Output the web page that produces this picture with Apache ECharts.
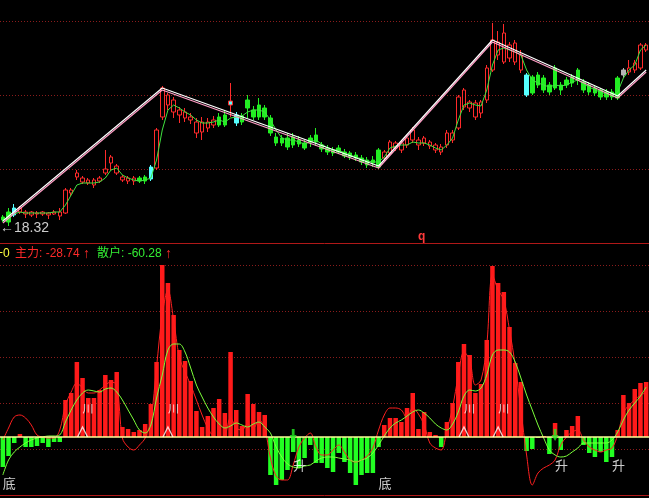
<!DOCTYPE html>
<html><head><meta charset="utf-8">
<script src="https://cdn.jsdelivr.net/npm/echarts@6/dist/echarts.min.js"></script>
<style>html,body{margin:0;padding:0;background:#000;}#c{width:649px;height:498px;}</style>
</head><body><div id="c"></div>
<script>
// ---------- price panel (daily candles) ----------
const openP = [18.41,18.46,18.43,18.46,18.46,18.46,18.45,18.44,18.45,18.44,
18.46,18.45,18.68,18.81,18.80,18.78,18.73,18.77,18.85,19.01,
18.85,18.81,18.80,18.77,18.80,18.81,18.79,18.90,19.41,19.63,
19.58,19.48,19.46,19.38,19.25,19.36,19.36,19.33,19.41,19.43,
19.53,19.35,19.42,19.50,19.48,19.41,19.50,19.40,19.21,19.20,
19.20,19.21,19.18,19.15,19.16,19.23,19.13,19.10,19.08,19.06,
19.06,19.05,19.03,19.00,18.98,18.95,18.91,19.00,19.05,19.15,
19.08,19.13,19.18,19.18,19.15,19.16,19.13,19.11,19.13,19.25,
19.30,19.51,19.56,19.55,19.45,19.58,19.88,20.16,19.96,20.13,
19.96,20.03,19.83,19.81,19.73,19.80,19.73,19.90,19.73,19.73,
19.75,19.88,19.76,19.73,19.70,19.68,19.66,19.61,19.60,19.83,
19.86,19.88,19.90,20.08];
const closeP = [18.38,18.36,18.50,18.50,18.44,18.43,18.44,18.46,18.43,18.46,
18.42,18.68,18.65,18.85,18.76,18.75,18.78,18.80,18.89,18.95,
18.92,18.78,18.77,18.80,18.77,18.77,18.91,19.28,19.70,19.53,
19.46,19.43,19.40,19.41,19.36,19.26,19.30,19.38,19.33,19.33,
19.57,19.43,19.36,19.58,19.41,19.53,19.41,19.25,19.15,19.15,
19.11,19.13,19.14,19.10,19.20,19.16,19.09,19.06,19.05,19.10,
19.02,19.01,19.00,18.96,18.93,18.98,19.08,19.06,19.16,19.10,
19.15,19.20,19.28,19.13,19.20,19.12,19.08,19.06,19.25,19.18,
19.61,19.68,19.50,19.41,19.56,19.90,20.18,20.03,20.25,20.00,
20.15,19.88,19.63,19.65,19.83,19.68,19.66,19.70,19.68,19.78,
19.81,19.78,19.68,19.66,19.65,19.61,19.61,19.66,19.80,19.88,
19.90,19.95,20.13,20.13];
const lowP = [18.36,18.32,18.41,18.44,18.40,18.41,18.40,18.42,18.39,18.43,
18.38,18.44,18.62,18.78,18.74,18.73,18.70,18.75,18.83,18.88,
18.83,18.76,18.74,18.73,18.75,18.74,18.77,18.88,19.38,19.48,
19.40,19.35,19.36,19.34,19.20,19.18,19.26,19.30,19.31,19.31,
19.41,19.32,19.33,19.40,19.38,19.38,19.38,19.22,19.12,19.12,
19.08,19.10,19.11,19.08,19.11,19.12,19.06,19.03,19.02,19.04,
19.00,18.98,18.97,18.93,18.90,18.91,18.89,18.96,19.02,19.07,
19.05,19.10,19.15,19.08,19.12,19.09,19.05,19.03,19.10,19.15,
19.28,19.48,19.46,19.38,19.40,19.55,19.86,19.98,19.94,19.96,
19.93,19.85,19.61,19.63,19.70,19.65,19.63,19.68,19.63,19.70,
19.71,19.73,19.65,19.63,19.62,19.58,19.58,19.58,19.58,19.80,
19.83,19.85,19.88,20.06];
const highP = [18.43,18.50,18.54,18.52,18.48,18.47,18.47,18.47,18.46,18.48,
18.50,18.70,18.70,18.88,18.82,18.80,18.80,18.82,19.08,19.03,
18.94,18.83,18.82,18.82,18.82,18.83,18.93,19.30,19.72,19.65,
19.61,19.51,19.50,19.45,19.40,19.41,19.40,19.42,19.45,19.48,
19.75,19.46,19.45,19.63,19.52,19.60,19.53,19.43,19.25,19.23,
19.25,19.25,19.22,19.18,19.23,19.30,19.16,19.13,19.11,19.13,
19.09,19.07,19.06,19.03,19.01,19.02,19.10,19.08,19.18,19.17,
19.18,19.23,19.31,19.21,19.22,19.18,19.15,19.14,19.28,19.28,
19.63,19.70,19.58,19.58,19.58,19.93,20.35,20.27,20.34,20.16,
20.18,20.08,19.85,19.83,19.86,19.83,19.76,19.93,19.76,19.81,
19.84,19.90,19.79,19.76,19.73,19.70,19.69,19.69,19.82,19.90,
19.98,19.98,20.15,20.15];
// candle signal per day: r = rising phase, g = falling phase, c = cyan signal, x = cyan body on red wick, w = neutral
const phase = "ggc" + "rrrrrrrrrrrrrrrrrrrrr" + "ggc" + "rrrrrrrrrrr" + "gg" + "xc" +
  "ggggggggggggggggggggggggg" + "rrrrrrrrrrrrrrrrrrrrrrrrr" + "c" + "gggggggggggggggg" + "w" + "rrrr";
const ma = [18.38,18.40,18.44,18.46,18.45,18.45,18.45,18.45,18.45,18.46,
18.46,18.53,18.63,18.73,18.75,18.75,18.75,18.76,18.80,18.88,
18.90,18.83,18.80,18.78,18.77,18.78,18.80,18.98,19.28,19.48,
19.53,19.50,19.46,19.43,19.38,19.35,19.35,19.36,19.38,19.36,
19.40,19.41,19.42,19.46,19.48,19.48,19.46,19.38,19.28,19.20,
19.18,19.18,19.16,19.14,19.16,19.18,19.14,19.10,19.08,19.08,
19.05,19.03,19.01,18.99,18.97,18.96,18.96,19.01,19.10,19.12,
19.13,19.13,19.16,19.15,19.15,19.13,19.10,19.08,19.13,19.20,
19.38,19.53,19.55,19.53,19.52,19.68,19.93,20.08,20.10,20.08,
20.06,20.03,19.88,19.78,19.75,19.73,19.71,19.73,19.72,19.73,
19.76,19.78,19.74,19.71,19.68,19.66,19.64,19.63,19.66,19.80,
19.88,19.93,20.08,20.13];
// zigzag pivots: [day index, price]
const pivotDays = [0, 28, 66, 86, 108, 113];
const pivotPrices = [18.37, 19.70, 18.92, 20.18, 19.62, 19.88];
const lowLabel = "18.32";

// ---------- flow panel ----------
const flowBars = [-30,-19,-6,3,-10,-10,-9,-6,-10,-5,
-5,37,44,75,59,39,39,47,62,57,
65,10,8,5,7,13,33,75,172,154,
122,87,76,56,26,10,21,29,38,24,
85,27,11,43,33,25,22,-38,-48,-43,
-33,-15,-31,-21,-8,-26,-26,-31,-35,-16,
-25,-36,-48,-38,-36,-36,-10,12,19,19,
15,29,44,8,25,5,2,-10,15,34,
75,93,82,44,53,97,171,154,145,110,
74,55,-14,-12,-1,1,-17,14,-13,7,
11,21,-8,-16,-20,-15,-25,-20,7,42,
34,48,54,55];
const mainLine = [-3,9,20,22,19,12,2,0,-1,-1,
7,32,45,54,49,44,44,47,52,55,
52,-1,-10,-13,-8,-1,17,70,122,147,
117,80,65,52,37,22,9,1,0,2,
19,9,7,13,9,17,9,-21,-39,-43,
-43,-28,-10,-1,4,-10,-18,-18,-13,-8,
-15,-23,-25,-23,-19,-11,7,22,29,29,
27,19,29,23,12,-6,-11,-13,7,29,
62,85,77,52,57,92,162,147,137,107,
72,27,-18,-48,-36,-31,-28,-23,-8,0,
5,7,-3,-10,-13,-15,-13,-11,2,24,
32,37,42,44];
const retailLine = [-38,-23,-15,-10,-6,-3,-1,0,1,1,
2,15,27,37,44,47,46,45,48,49,
45,37,27,17,7,4,12,39,62,87,
93,93,85,69,52,40,29,20,13,9,
11,14,12,10,13,15,10,4,-10,-20,
-27,-30,-31,-29,-28,-24,-21,-20,-20,-21,
-22,-23,-25,-23,-21,-16,-8,1,9,14,
17,21,25,27,24,19,13,9,7,13,
25,41,47,46,49,62,82,87,87,85,
75,59,42,27,12,-1,-13,-18,-20,-19,
-15,-11,-6,-6,-6,-6,-6,-3,5,17,
27,34,41,50];
const tipDays = [14, 29, 81, 87];      // hollow up-triangles with tag
const bottomDays = [0, 66];            // 底
const riseDays = [51, 97, 107];        // 升
const arrowDays = [51, 97];            // green down arrows
const titleMain = "-28.74";
const titleRetail = "-60.28";

const days = openP.map((_, i) => String(i));

const RED = '#ff2a2a', GREEN = '#22ee22', CYAN = '#55ffff', GREY = '#b4b4b4';
const styleOf = {
  r: {color:'#000000', color0:RED, borderColor:RED, borderColor0:RED},
  g: {color:GREEN, color0:GREEN, borderColor:GREEN, borderColor0:GREEN},
  c: {color:CYAN, color0:CYAN, borderColor:CYAN, borderColor0:CYAN},
  x: {color:CYAN, color0:CYAN, borderColor:RED, borderColor0:RED},
  w: {color:GREY, color0:GREY, borderColor:GREY, borderColor0:GREY}
};
const candleData = days.map((d, i) => ({
  value: [openP[i], closeP[i], lowP[i], highP[i]],
  itemStyle: styleOf[phase[i]]
}));
const zig = days.map(() => null);
pivotDays.forEach((d, k) => { zig[d] = pivotPrices[k]; });

const FONT = "'Liberation Sans','Noto Sans CJK SC',sans-serif";
const CJK = "'Noto Sans CJK SC',sans-serif";
const gridLine = {show:true, showMinLine:false, showMaxLine:false, lineStyle:{color:'#8a1c1c', type:[1,2], width:1}};
const hidden = {axisLabel:{show:false}, axisTick:{show:false}, axisLine:{show:false}};

const chart = echarts.init(document.getElementById('c'), null, {renderer:'canvas'});
chart.setOption({
  backgroundColor:'#000000',
  animation:false,
  grid:[
    {left:0, top:0, width:652, height:243},
    {left:0, top:250, width:652, height:245}
  ],
  xAxis:[
    {type:'category', gridIndex:0, data:days, boundaryGap:true, axisLabel:{show:false}, axisTick:{show:false},
     axisLine:{show:true, onZero:false, lineStyle:{color:'#b01818', width:1}}, splitLine:{show:false}},
    {type:'category', gridIndex:1, data:days, boundaryGap:true, axisLabel:{show:false}, axisTick:{show:false},
     axisLine:{show:true, onZero:false, lineStyle:{color:'#b01818', width:1}}, splitLine:{show:false}}
  ],
  yAxis:[
    Object.assign({type:'value', gridIndex:0, min:18.15, max:20.58, scale:true, splitLine:{show:false}}, hidden),
    Object.assign({type:'value', gridIndex:0, min:0, max:243, interval:74, splitLine:gridLine}, hidden),
    Object.assign({type:'value', gridIndex:1, min:-58, max:187, splitLine:{show:false}}, hidden),
    Object.assign({type:'value', gridIndex:1, min:0, max:245, interval:46, splitLine:gridLine}, hidden)
  ],
  graphic:[
    {type:'text', x:0, y:228, style:{text:'\u2190' + lowLabel, fill:'#cccccc', font:'14px ' + FONT, textVerticalAlign:'middle'}},
    {type:'text', x:418, y:237, style:{text:'q', fill:'#ff3a3a', font:'bold 12px ' + FONT, textVerticalAlign:'middle'}},
    {type:'text', x:-4, y:254, style:{text:'+0', fill:'#ffff40', font:'12px ' + FONT, textVerticalAlign:'middle'}},
    {type:'text', x:15, y:254, style:{text:'主力: ' + titleMain, fill:'#ff2a2a', font:'12px ' + FONT, textVerticalAlign:'middle'}},
    {type:'text', x:83, y:254, style:{text:'\u2191', fill:'#ff2a2a', font:'bold 14px ' + FONT, textVerticalAlign:'middle'}},
    {type:'text', x:97, y:254, style:{text:'散户: ' + titleRetail, fill:'#33ee33', font:'12px ' + FONT, textVerticalAlign:'middle'}},
    {type:'text', x:165, y:254, style:{text:'\u2191', fill:'#ff2a2a', font:'bold 14px ' + FONT, textVerticalAlign:'middle'}}
  ],
  series:[
    {type:'candlestick', xAxisIndex:0, yAxisIndex:0, data:candleData, barWidth:4, itemStyle:{borderWidth:1}, z:3},
    {type:'line', xAxisIndex:0, yAxisIndex:0, data:ma, symbol:'none', lineStyle:{color:'#3fe23f', width:1}, z:4},
    {type:'line', xAxisIndex:0, yAxisIndex:0, data:zig, connectNulls:true, symbol:'none',
     lineStyle:{color:'#ffffff', width:1.2, shadowColor:'#ff9cc4', shadowBlur:0, shadowOffsetY:2}, z:5},
    {type:'bar', xAxisIndex:1, yAxisIndex:2, data:flowBars, barWidth:4.5,
     itemStyle:{color:(p) => p.value >= 0 ? '#ff1a1a' : '#22ff22'},
     markLine:{silent:true, symbol:'none', label:{show:false}, data:[{yAxis:0}],
       lineStyle:{color:'#ffff9a', width:1.6, type:'solid'}}, z:2},
    {type:'line', xAxisIndex:1, yAxisIndex:2, data:mainLine, symbol:'none', smooth:0.35,
     lineStyle:{color:'#ff2020', width:1}, z:4},
    {type:'line', xAxisIndex:1, yAxisIndex:2, data:retailLine, symbol:'none', smooth:0.35,
     lineStyle:{color:'#7cff3a', width:1}, z:4},
    {type:'scatter', xAxisIndex:1, yAxisIndex:2, data:tipDays.map(d => [String(d), 5]),
     symbol:'path://M0,10 L5,0 L10,10', symbolSize:[10,10],
     itemStyle:{color:'rgba(0,0,0,0)', borderColor:'#ffffff', borderWidth:1.3}, z:6},
    {type:'scatter', xAxisIndex:1, yAxisIndex:2, data:tipDays.map(d => [String(d), 28]), symbolSize:0,
     label:{show:true, position:'right', distance:0, formatter:'川', color:'#ffffff', fontSize:11, fontFamily:CJK}, z:6},
    {type:'scatter', xAxisIndex:1, yAxisIndex:2, data:bottomDays.map(d => [String(d), -46]), symbolSize:0,
     label:{show:true, position:'right', distance:0, formatter:'底', color:'#ffffff', fontSize:13, fontFamily:CJK}, z:6},
    {type:'scatter', xAxisIndex:1, yAxisIndex:2, data:riseDays.map(d => [String(d), -28]), symbolSize:0,
     label:{show:true, position:'right', distance:0, formatter:'升', color:'#ffffff', fontSize:13, fontFamily:CJK}, z:6},
    {type:'scatter', xAxisIndex:1, yAxisIndex:2, data:arrowDays.map(d => [String(d), 2]),
     symbol:'path://M3,0 L7,0 L7,6 L10,6 L5,12 L0,6 L3,6 Z', symbolSize:[7,12],
     itemStyle:{color:'#22ee22'}, z:6}
  ]
});
</script>
</body></html>
